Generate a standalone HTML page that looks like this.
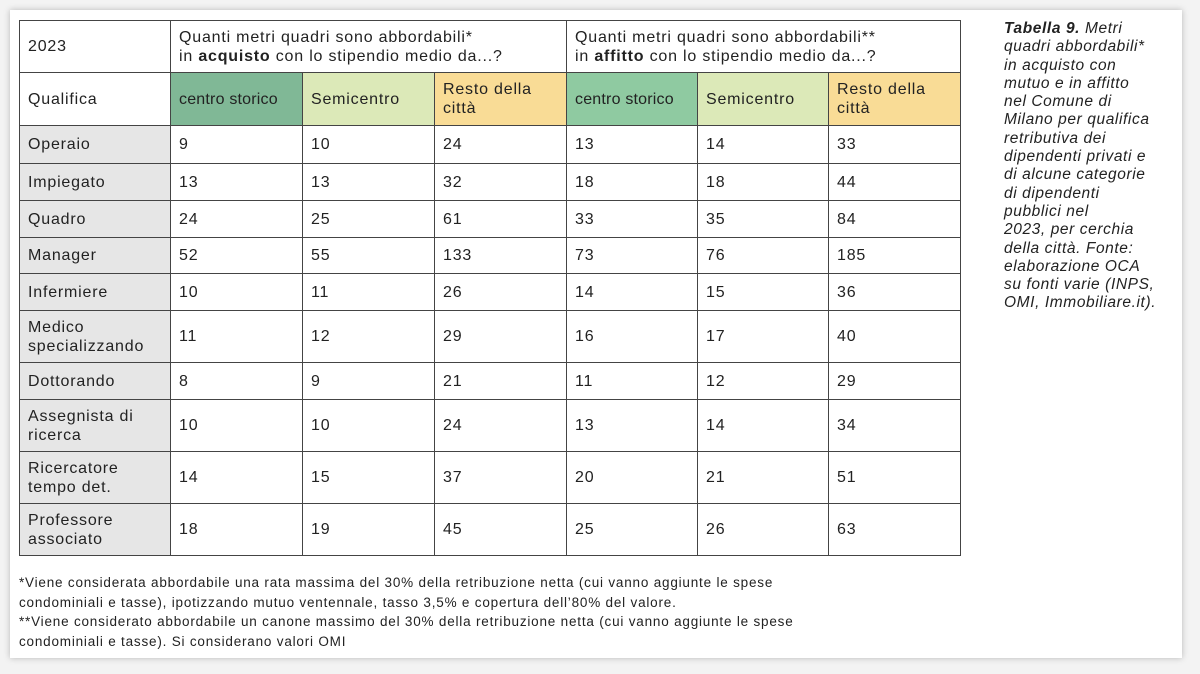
<!DOCTYPE html>
<html><head><meta charset="utf-8"><style>
body{margin:0;width:1200px;height:674px;background:#f3f3f3;font-family:"Liberation Sans",sans-serif;color:#222;position:relative;overflow:hidden}
.card{position:absolute;left:10px;top:10px;width:1172px;height:648px;background:#fff;box-shadow:0 0 6px rgba(0,0,0,.25)}
table{position:absolute;left:19px;top:20px;border-collapse:collapse;table-layout:fixed}
td{border:1.5px solid #444;padding:0 8px;font-size:16px;letter-spacing:.8px;line-height:19px;vertical-align:middle;color:#222;white-space:nowrap;overflow:hidden}
.g{background:#e6e6e6}
.c1{background:#80b896}.c2{background:#dce9b8}.c3{background:#f9dc96}.c4{background:#8fcaa1}
.cap{position:absolute;left:1004px;top:20px;width:190px;font-style:italic;font-size:15.5px;letter-spacing:.6px;line-height:18.3px;color:#222;white-space:nowrap}
.fn{position:absolute;left:19px;top:573px;font-size:13.5px;letter-spacing:.8px;line-height:19.5px;color:#222;white-space:nowrap}
</style></head><body>
<div class="card"></div>
<table>
<colgroup><col style="width:151px"><col style="width:132px"><col style="width:132px"><col style="width:132px"><col style="width:131px"><col style="width:131px"><col style="width:132px"></colgroup>
<tr style="height:52px"><td>2023</td><td colspan="3">Quanti metri quadri sono abbordabili*<br>in <b>acquisto</b> con lo stipendio medio da...?</td><td colspan="3">Quanti metri quadri sono abbordabili**<br>in <b>affitto</b> con lo stipendio medio da...?</td></tr>
<tr style="height:53px"><td>Qualifica</td><td class="c1" style="letter-spacing:.2px">centro storico</td><td class="c2">Semicentro</td><td class="c3">Resto della<br>città</td><td class="c4" style="letter-spacing:.2px">centro storico</td><td class="c2">Semicentro</td><td class="c3">Resto della<br>città</td></tr>
<tr style="height:38px"><td class="g">Operaio</td><td>9</td><td>10</td><td>24</td><td>13</td><td>14</td><td>33</td></tr>
<tr style="height:37px"><td class="g">Impiegato</td><td>13</td><td>13</td><td>32</td><td>18</td><td>18</td><td>44</td></tr>
<tr style="height:37px"><td class="g">Quadro</td><td>24</td><td>25</td><td>61</td><td>33</td><td>35</td><td>84</td></tr>
<tr style="height:36px"><td class="g">Manager</td><td>52</td><td>55</td><td>133</td><td>73</td><td>76</td><td>185</td></tr>
<tr style="height:37px"><td class="g">Infermiere</td><td>10</td><td>11</td><td>26</td><td>14</td><td>15</td><td>36</td></tr>
<tr style="height:52px"><td class="g">Medico<br>specializzando</td><td>11</td><td>12</td><td>29</td><td>16</td><td>17</td><td>40</td></tr>
<tr style="height:37px"><td class="g">Dottorando</td><td>8</td><td>9</td><td>21</td><td>11</td><td>12</td><td>29</td></tr>
<tr style="height:52px"><td class="g">Assegnista di<br>ricerca</td><td>10</td><td>10</td><td>24</td><td>13</td><td>14</td><td>34</td></tr>
<tr style="height:52px"><td class="g">Ricercatore<br>tempo det.</td><td>14</td><td>15</td><td>37</td><td>20</td><td>21</td><td>51</td></tr>
<tr style="height:52px"><td class="g">Professore<br>associato</td><td>18</td><td>19</td><td>45</td><td>25</td><td>26</td><td>63</td></tr>
</table>
<div class="cap"><b>Tabella 9.</b> Metri<br>quadri abbordabili*<br>in acquisto con<br>mutuo e in affitto<br>nel Comune di<br>Milano per qualifica<br>retributiva dei<br>dipendenti privati e<br>di alcune categorie<br>di dipendenti<br>pubblici nel<br>2023, per cerchia<br>della città. Fonte:<br>elaborazione OCA<br>su fonti varie (INPS,<br>OMI, Immobiliare.it).</div>
<div class="fn">*Viene considerata abbordabile una rata massima del 30% della retribuzione netta (cui vanno aggiunte le spese<br>condominiali e tasse), ipotizzando mutuo ventennale, tasso 3,5% e copertura dell’80% del valore.<br>**Viene considerato abbordabile un canone massimo del 30% della retribuzione netta (cui vanno aggiunte le spese<br>condominiali e tasse). Si considerano valori OMI</div>
</body></html>
